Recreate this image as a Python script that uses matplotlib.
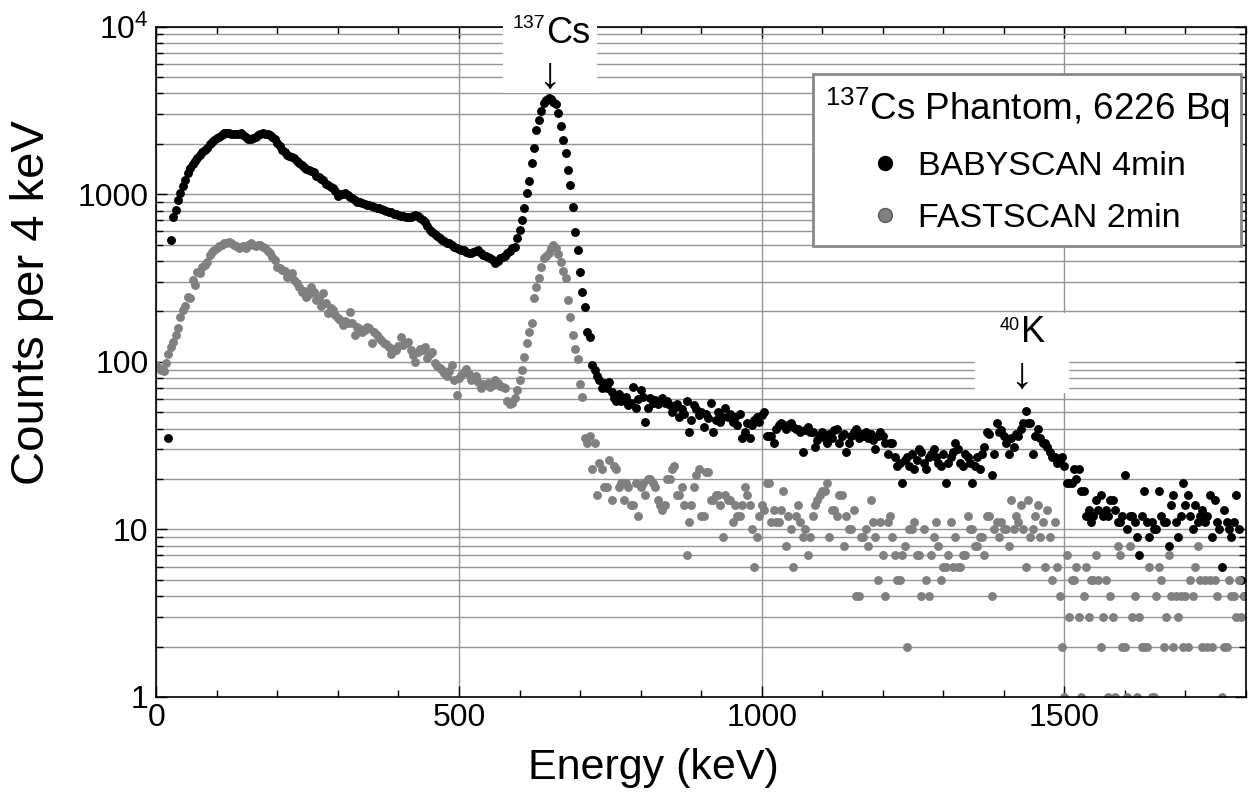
import numpy as np
import matplotlib
matplotlib.use('Agg')
from matplotlib import pyplot as plt
from matplotlib.patches import Rectangle
from matplotlib.lines import Line2D
from matplotlib.ticker import FixedLocator, MultipleLocator, LogLocator, NullFormatter

plt.rcParams['font.family'] = ['Liberation Sans', 'DejaVu Sans']
plt.rcParams['mathtext.fontset'] = 'custom'
plt.rcParams['mathtext.rm'] = 'Liberation Sans'
plt.rcParams['mathtext.it'] = 'Liberation Sans:italic'

# spectra, counts per 4 keV bin (bins start at 0, 4, 8, ... keV); None = empty bin
binWidth = 4
energy = np.arange(0, 1800, binWidth)

babyscan = [
    None, None, None, None, None, 35, 533, 730, 805, 925, 1023, 1122, 1217, 1334, 1429, 1510, 1589, 1650, 1716, 1780, 1837, 1900, 1986, 2040, 2108,  # 0
    2160, 2210, 2260, 2310, 2332, 2330, 2300, 2290, 2290, 2300, 2332, 2260, 2190, 2150, 2150, 2180, 2210, 2260, 2290, 2310, 2300, 2280, 2250, 2200, 2150,  # 100
    2014, 1950, 1837, 1780, 1716, 1690, 1660, 1640, 1580, 1531, 1490, 1462, 1420, 1396, 1380, 1365, 1290, 1274, 1230, 1217, 1150, 1137, 1110, 1086, 1040,  # 200
    977, 1000, 1010, 1023, 990, 970, 946, 920, 900, 903, 890, 870, 865, 863, 850, 840, 830, 824, 815, 805, 795, 787, 780, 765, 758,  # 300
    752, 745, 740, 735, 735, 735, 745, 752, 745, 720, 700, 686, 650, 615, 598, 580, 560, 546, 535, 525, 515, 510, 495, 485, 475,  # 400
    470, 462, 465, 455, 448, 444, 450, 460, 465, 445, 434, 430, 424, 418, 405, 390, 400, 415, 424, 430, 444, 460, 480, 486, 546,  # 500
    612, 702, 824, 1021, 1205, 1528, 1900, 2418, 2775, 3155, 3485, 3650, 3735, 3700, 3550, 3450, 3040, 2553, 2108, 1753, 1396, 1136, 835, 593, 465,  # 600
    342, 260, 213, 151, 141, 96, 90, 82, 78, 70, 75, 70, 76, 66, 61, 58, 64, 58, 60, 62, 55, 57, 71, 53, 60,  # 700
    68, 62, 44, 53, 61, 57, 59, 56, 58, 61, 57, 58, 55, 50, 53, 56, 47, 52, 49, 58, 38, 45, 55, 52, 48,  # 800
    50, 41, 49, 46, 57, 38, 45, 50, 44, 47, 53, 47, 49, 44, 47, 42, 49, 35, 38, 43, 35, 42, 45, 47, 44,  # 900
    48, 50, 36, 36, 36, 33, 40, 42, 43, 42, 40, 42, 43, 41, 40, 40, 38, 29, 39, 41, 38, 38, 31, 34, 36,  # 1000
    38, 35, 33, 37, 35, 39, 40, 33, 36, 37, 29, 33, 36, 38, 40, 35, 37, 36, 38, 35, 37, 34, 30, 36, 38,  # 1100
    36, 33, 28, 33, 33, 27, 24, 25, 19, 26, 27, 24, 28, 23, 26, 30, 29, 25, 23, 27, 28, 30, 27, 25, 24,  # 1200
    28, 19, 25, 27, 29, 33, 30, 25, 24, 28, 27, 25, 19, 24, 27, 23, 28, 31, 38, 37, 21, 28, 43, 38, 39,  # 1300
    36, 33, 28, 35, 31, 37, 36, 40, 43, 51, 43, 43, 28, 36, 40, 35, 33, 33, 31, 29, 27, 27, 25, 26, 27,  # 1400
    24, 19, 19, 19, 23, 20, 23, 17, 17, 12, 13, 11, 12, 15, 13, 16, 12, 13, 12, 15, 15, 13, 11, 11, 12,  # 1500
    21, 10, 12, 12, 11, 9, 7, 12, 17, 11, 9, 11, 10, 10, 17, 12, 11, 11, 8, 14, 16, 11, 9, 12, 19,  # 1600
    14, 16, 12, 10, 14, 11, 12, 13, 11, 12, 16, 9, 15, 11, 10, 6, 13, 11, 10, 9, 11, 16, 10, 5, 4,  # 1700
]

fastscan = [
    96, 92, 90, 88, 98, 112, 123, 132, 145, 160, 186, 204, 214, 245, 240, 308, 288, 345, 340, 370, 380, 396, 434, 450, 466,  # 0
    475, 488, 495, 510, 515, 521, 515, 498, 490, 476, 482, 488, 480, 495, 510, 495, 488, 500, 498, 485, 476, 460, 444, 425, 406,  # 100
    370, 365, 353, 350, 323, 330, 337, 310, 294, 280, 262, 265, 245, 255, 281, 260, 234, 240, 214, 256, 225, 195, 210, 204, 190,  # 200
    182, 178, 166, 175, 170, 199, 170, 145, 162, 158, 150, 155, 162, 160, 129, 150, 144, 138, 135, 130, 128, 123, 112, 120, 118,  # 300
    125, 141, 126, 130, 132, 118, 110, 100, 115, 120, 118, 123, 105, 112, 115, 98, 95, 92, 89, 86, 82, 88, 96, 78, 63,  # 400
    80, 83, 87, 91, 85, 78, 80, 82, 76, 70, 74, 73, 75, 71, 73, 78, 75, 72, 71, 70, 58, 56, 57, 61, 68,  # 500
    78, 89, 107, 129, 151, 170, 239, 281, 315, 370, 415, 430, 444, 475, 498, 475, 440, 396, 350, 315, 234, 186, 145, 120, 104,  # 600
    74, 62, 35, 33, 36, 23, 33, 16, 25, 23, 18, 18, 26, 15, 24, 23, 18, 19, 15, 19, 18, 14, 14, 19, 12,  # 700
    18, 19, 16, 20, 20, 19, 18, 15, 14, 13, 14, 20, 20, 23, 24, 16, 16, 18, 14, 7, 11, 14, 18, 21, 23,  # 800
    12, 12, 22, 22, 15, 15, 16, 16, 14, 9, 16, 15, 15, 11, 14, 12, 12, 14, 18, 16, 14, 10, 6, 9, 12,  # 900
    14, 13, 19, 19, 11, 13, 11, 11, 13, 17, 8, 12, 10, 6, 12, 14, 11, 9, 10, 7, 9, 12, 14, 15, 16,  # 1000
    17, 17, 19, 9, 13, 13, 12, 16, 16, 8, 12, 10, 10, 13, 4, 4, 9, 9, 10, 8, 15, 11, 9, 5, 11,  # 1100
    7, 4, 11, 12, 9, 7, 5, 5, 7, 8, 2, 10, 10, 11, 7, 7, 4, 10, 5, 4, 7, 9, 11, 8, 5,  # 1200
    6, 6, 7, 11, 6, 9, 6, 6, 7, 7, 12, 10, 10, 8, 8, 9, 9, 7, 12, 12, 4, 10, 11, 9, 11,  # 1300
    10, 10, 8, 15, 10, 12, 11, 14, 10, 6, 15, 9, 10, 12, 14, 9, 11, 6, 13, 9, 5, 11, 6, 4, 2,  # 1400
    1, 7, 3, 5, 5, 6, 3, 1, 4, 6, 3, 5, 5, 7, 5, 2, 3, 5, 1, 4, 3, 1, 8, 7, 2,  # 1500
    2, 1, 8, 3, 4, 1, 3, 2, 2, 2, 6, 1, 1, 4, 6, 5, 2, 3, 7, 4, 2, 4, 3, 4, 2,  # 1600
    4, 2, 5, 4, 6, 8, 5, 2, 5, 2, 5, 2, 5, 4, None, 1, 2, 2, 5, 4, 4, 3, 5, 3, 4,  # 1700
]

babyscan = np.array(babyscan, dtype=float)
fastscan = np.array(fastscan, dtype=float)

yTicks = [1, 10, 100, 1000, 10000]
yTickLabels = ['1', '10', '100', '1000', r'$10^{4}$']
xTicks = [0, 500, 1000, 1500]

fig = plt.figure(figsize=(12.49, 7.93), dpi=100)
ax = fig.add_axes([0.1251, 0.1211, 0.8725, 0.8452])
ax.set_yscale('log')
ax.set_xlim(0, 1800)
ax.set_ylim(1, 1e4)

ax.plot(energy, babyscan, 'o', color='black', ms=6.4, mec='none', zorder=2)
ax.plot(energy, fastscan, 'o', color='#808080', ms=6.4, mec='none', zorder=2)

# axes and grid
ax.xaxis.set_major_locator(FixedLocator(xTicks))
ax.xaxis.set_minor_locator(MultipleLocator(100))
ax.yaxis.set_major_locator(FixedLocator(yTicks))
ax.yaxis.set_minor_locator(LogLocator(base=10, subs=np.arange(2, 10)))
ax.yaxis.set_minor_formatter(NullFormatter())
ax.set_yticklabels(yTickLabels)
ax.tick_params(which='both', direction='in', top=True, right=True, labelsize=23, width=1)
ax.tick_params(which='major', length=8)
ax.tick_params(which='minor', length=5)
ax.tick_params(axis='y', pad=5.5)
ax.tick_params(axis='x', pad=4)
ax.set_axisbelow(True)
ax.grid(True, which='major', axis='x', color='#959595', lw=1)
ax.grid(True, which='both', axis='y', color='#959595', lw=1)
for s in ax.spines.values():
    s.set_linewidth(1.2)

ax.set_xlabel('Energy (keV)', fontsize=31)
ax.set_ylabel('Counts per 4 keV', fontsize=34)
ax.xaxis.set_label_coords(0.4558, -0.076)
ax.yaxis.set_label_coords(-0.094, 0.588)

# peak labels on white boxes
ax.add_patch(Rectangle((572.7, 4020), 728 - 572.7, 11900 - 4020, facecolor='white',
                       edgecolor='none', zorder=2.6, clip_on=False))
ax.text(644.8, 8000, 'Cs', fontsize=26, ha='left', va='baseline', zorder=2.7, clip_on=False)
ax.text(642.6, 9780, '137', fontsize=14, ha='right', va='baseline', zorder=2.7, clip_on=False)
ax.text(649, 5080, '\u2193', fontsize=32, ha='center', va='center', zorder=2.7, clip_on=False)

ax.add_patch(Rectangle((1352, 65.2), 1508 - 1352, 196 - 65.2, facecolor='white',
                       edgecolor='none', zorder=1.5))
ax.text(1427.7, 132, 'K', fontsize=26, ha='left', va='baseline', zorder=2.7)
ax.text(1426, 155, '40', fontsize=13, ha='right', va='baseline', zorder=2.7)
ax.text(1428, 81.3, '\u2193', fontsize=32, ha='center', va='center', zorder=2.7)

# legend
handles = [Line2D([], [], ls='none', marker='o', ms=10, color='black', mec='black'),
           Line2D([], [], ls='none', marker='o', ms=10, color='#808080', mec='#5a5a5a', mew=1)]
leg = ax.legend(handles, ['BABYSCAN 4min', 'FASTSCAN 2min'],
                title=r'$^{137}$Cs Phantom, 6226 Bq', title_fontsize=26.6, fontsize=24.5,
                loc='upper left', bbox_to_anchor=(0.6024, 0.9294), alignment='center',
                frameon=True, fancybox=False, edgecolor='#888888', framealpha=1,
                handlelength=1.0, handletextpad=0.45, labelspacing=0.62,
                borderpad=0.35, borderaxespad=0)
leg.get_frame().set_linewidth(2)
leg.set_zorder(5)

fig.savefig('out.png', dpi=100)
